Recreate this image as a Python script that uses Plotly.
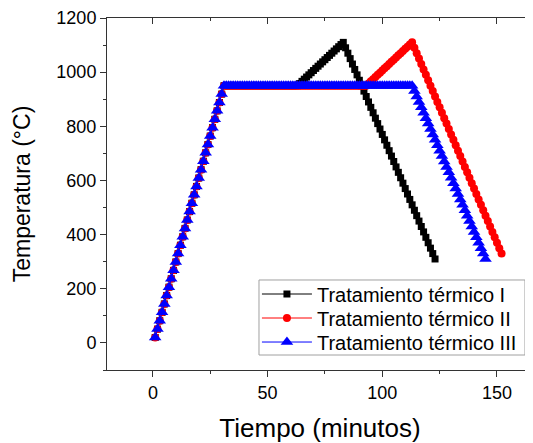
import plotly.graph_objects as go

tiempo = [
    1, 2, 3, 4, 5, 6, 7, 8, 9, 10,
    11, 12, 13, 14, 15, 16, 17, 18, 19, 20,
    21, 22, 23, 24, 25, 26, 27, 28, 29, 30,
    31, 32, 33, 34, 35, 36, 37, 38, 39, 40,
    41, 42, 43, 44, 45, 46, 47, 48, 49, 50,
    51, 52, 53, 54, 55, 56, 57, 58, 59, 60,
    61, 62, 63, 64, 65, 66, 67, 68, 69, 70,
    71, 72, 73, 74, 75, 76, 77, 78, 79, 80,
    81, 82, 83, 84, 85, 86, 87, 88, 89, 90,
    91, 92, 93, 94, 95, 96, 97, 98, 99, 100,
    101, 102, 103, 104, 105, 106, 107, 108, 109, 110,
    111, 112, 113, 114, 115, 116, 117, 118, 119, 120,
    121, 122, 123, 124, 125, 126, 127, 128, 129, 130,
    131, 132, 133, 134, 135, 136, 137, 138, 139, 140,
    141, 142, 143, 144, 145, 146, 147, 148, 149, 150,
    151, 152,
]

temp_I = [
    20, 51, 82, 113, 144, 175, 206, 237, 268, 299,
    330, 361, 392, 423, 454, 485, 516, 547, 578, 609,
    640, 671, 702, 733, 764, 795, 826, 857, 888, 919,
    950,
    950, 950, 950, 950, 950, 950, 950, 950, 950, 950,
    950, 950, 950, 950, 950, 950, 950, 950, 950, 950,
    950, 950, 950, 950, 950, 950, 950, 950, 950, 950,
    950, 950,
    958, 966, 974, 982, 990, 998, 1006, 1014, 1022, 1030,
    1038, 1046, 1054, 1062, 1070, 1078, 1086, 1094, 1102, 1110,
    1090, 1070, 1050, 1030, 1010, 990, 970, 950, 930, 910,
    890, 870, 850, 830, 810, 790, 770, 750, 730, 710,
    690, 670, 650, 630, 610, 590, 570, 550, 530, 510,
    490, 470, 450, 430, 410, 390, 370, 350, 330, 310,
]

temp_II = [
    20, 51, 82, 113, 144, 175, 206, 237, 268, 299,
    330, 361, 392, 423, 454, 485, 516, 547, 578, 609,
    640, 671, 702, 733, 764, 795, 826, 857, 888, 919,
    950,
    950, 950, 950, 950, 950, 950, 950, 950, 950, 950,
    950, 950, 950, 950, 950, 950, 950, 950, 950, 950,
    950, 950, 950, 950, 950, 950, 950, 950, 950, 950,
    950, 950, 950, 950, 950, 950, 950, 950, 950, 950,
    950, 950, 950, 950, 950, 950, 950, 950, 950, 950,
    950, 950, 950, 950, 950, 950, 950, 950, 950, 950,
    950, 950,
    958, 966, 974, 982, 990, 998, 1006, 1014, 1022, 1030,
    1038, 1046, 1054, 1062, 1070, 1078, 1086, 1094, 1102, 1110,
    1090, 1070, 1050, 1030, 1010, 990, 970, 950, 930, 910,
    890, 870, 850, 830, 810, 790, 770, 750, 730, 710,
    690, 670, 650, 630, 610, 590, 570, 550, 530, 510,
    490, 470, 450, 430, 410, 390, 370, 350, 330,
]

temp_III = [
    20, 51, 82, 113, 144, 175, 206, 237, 268, 299,
    330, 361, 392, 423, 454, 485, 516, 547, 578, 609,
    640, 671, 702, 733, 764, 795, 826, 857, 888, 919,
    950,
    950, 950, 950, 950, 950, 950, 950, 950, 950, 950,
    950, 950, 950, 950, 950, 950, 950, 950, 950, 950,
    950, 950, 950, 950, 950, 950, 950, 950, 950, 950,
    950, 950, 950, 950, 950, 950, 950, 950, 950, 950,
    950, 950, 950, 950, 950, 950, 950, 950, 950, 950,
    950, 950, 950, 950, 950, 950, 950, 950, 950, 950,
    950, 950, 950, 950, 950, 950, 950, 950, 950, 950,
    950, 950, 950, 950, 950, 950, 950, 950, 950, 950,
    950, 950,
    930, 910, 890, 870, 850, 830, 810, 790, 770, 750,
    730, 710, 690, 670, 650, 630, 610, 590, 570, 550,
    530, 510, 490, 470, 450, 430, 410, 390, 370, 350,
    330, 310,
]

series_names = ["Tratamiento térmico I", "Tratamiento térmico II", "Tratamiento térmico III"]
x_ticks = [0, 50, 100, 150]
y_ticks = [0, 200, 400, 600, 800, 1000, 1200]

FONT = "Liberation Sans, Arial, sans-serif"
AXC = "#333333"

fig = go.Figure()
fig.add_trace(go.Scatter(
    x=tiempo[:len(temp_I)], y=temp_I, mode="lines+markers", name=series_names[0],
    line=dict(color="black", width=1),
    marker=dict(symbol="square", size=7, color="black"),
    legend="legend",
))
fig.add_trace(go.Scatter(
    x=tiempo[:len(temp_II)], y=temp_II, mode="lines+markers", name=series_names[1],
    line=dict(color="#ff0000", width=1),
    marker=dict(symbol="circle", size=8, color="#ff0000"),
    legend="legend2",
))
fig.add_trace(go.Scatter(
    x=tiempo[:len(temp_III)], y=temp_III, mode="lines+markers", name=series_names[2],
    line=dict(color="#0000ff", width=1),
    marker=dict(symbol="triangle-up", size=11, color="#0000ff"),
    legend="legend3",
))
# invisible trace to anchor the top (mirror) axis
fig.add_trace(go.Scatter(x=[0], y=[0], xaxis="x2", mode="markers",
                         marker=dict(opacity=0), showlegend=False, hoverinfo="skip"))

leg_common = dict(
    xanchor="left", yanchor="middle",
    bgcolor="rgba(0,0,0,0)", borderwidth=0,
    font=dict(size=20, family=FONT), itemwidth=50,
)
row_y = [0.2159, 0.1477, 0.0795]

fig.update_layout(
    width=525, height=435,
    margin=dict(l=99, r=0, t=10, b=73, pad=0),
    paper_bgcolor="white", plot_bgcolor="white",
    font=dict(family=FONT, color="black"),
    showlegend=True,
    legend=dict(x=0.352, y=row_y[0], **leg_common),
    legend2=dict(x=0.352, y=row_y[1], **leg_common),
    legend3=dict(x=0.352, y=row_y[2], **leg_common),
    shapes=[dict(
        type="rect", xref="paper", yref="paper",
        x0=0.3568, x1=0.9812, y0=0.0426, y1=0.2557,
        line=dict(color="#a0a0a0", width=1), fillcolor="white", layer="above",
    )],
    xaxis=dict(
        automargin=False,
        range=[-20, 165.7], tickvals=x_ticks, ticktext=[str(v) for v in x_ticks],
        showgrid=False, zeroline=False,
        showline=True, linecolor=AXC, linewidth=1,
        ticks="outside", ticklen=6, tickcolor=AXC,
        minor=dict(ticks="outside", ticklen=3, dtick=25, tick0=0, tickcolor=AXC),
        tickfont=dict(size=18),
        title=dict(text="Tiempo (minutos)", font=dict(size=26), standoff=26),
    ),
    xaxis2=dict(
        automargin=False,
        overlaying="x", matches="x", side="top", anchor="y",
        tickvals=x_ticks, showticklabels=False,
        showgrid=False, zeroline=False,
        showline=True, linecolor=AXC, linewidth=1,
        ticks="inside", ticklen=6, tickcolor=AXC,
        minor=dict(ticks="inside", ticklen=3, dtick=25, tick0=0, tickcolor=AXC),
    ),
    yaxis=dict(
        automargin=False,
        range=[-100, 1200], tickvals=y_ticks, ticktext=[str(v) for v in y_ticks],
        showgrid=False, zeroline=False,
        showline=True, linecolor=AXC, linewidth=1,
        ticks="outside", ticklen=6, tickcolor=AXC,
        minor=dict(ticks="outside", ticklen=3, dtick=100, tick0=0, tickcolor=AXC),
        tickfont=dict(size=18),
        title=dict(text="Temperatura (°C)", font=dict(size=23), standoff=19),
    ),
)

fig.write_html("out.html")
